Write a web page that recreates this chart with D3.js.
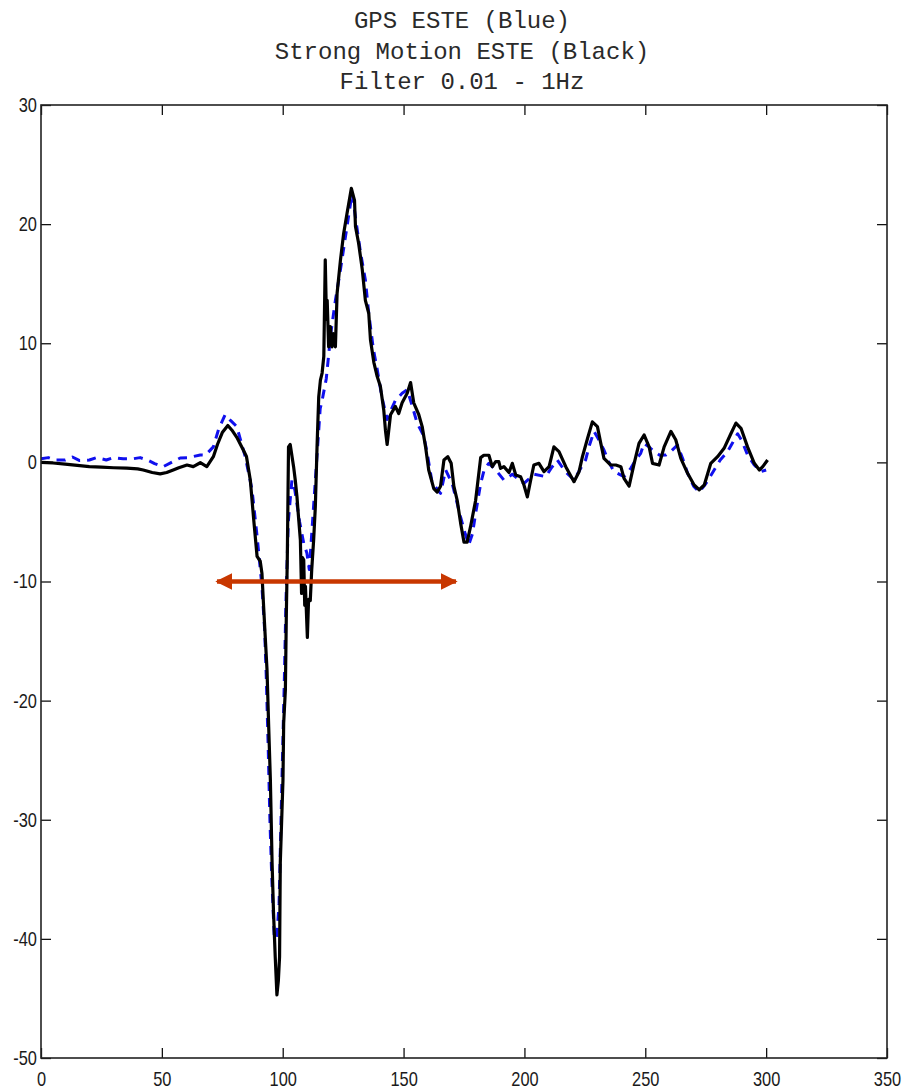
<!DOCTYPE html>
<html>
<head>
<meta charset="utf-8">
<script src="https://cdn.jsdelivr.net/npm/d3@7"></script>
<style>
html,body{margin:0;padding:0;background:#fff;}
svg{display:block;}
</style>
</head>
<body>
<svg id="chart" width="904" height="1090"></svg>
<script>
// ---- Data ----
const titleLines = ["GPS ESTE (Blue)", "Strong Motion ESTE (Black)", "Filter 0.01 - 1Hz"];
const xTicks = [0, 50, 100, 150, 200, 250, 300, 350];
const yTicks = [30, 20, 10, 0, -10, -20, -30, -40, -50];
const xDomain = [0, 350];
const yDomain = [-50, 30];

// Strong motion (black solid) [time, value]
const strongMotion = [
[0,0],[5,-0.05],[10,-0.15],[15,-0.25],[20,-0.36],[25,-0.4],[30,-0.45],[35.5,-0.49],[40,-0.55],[42.3,-0.64],
[46,-0.85],[49.3,-0.97],[52,-0.85],[54.7,-0.64],[57,-0.45],[60.4,-0.22],[63,-0.36],[65.9,-0.03],[68.6,-0.36],[71.3,0.48],
[73,1.5],[75,2.5],[77.3,3.1],[79,2.7],[81,2.1],[83.8,1.0],[85,0.5],[86.6,-1.5],[88,-4.8],[89.4,-7.9],
[90.7,-8.3],[91.4,-9.3],[92.1,-12.1],[93.5,-17.4],[94.2,-22.2],[94.9,-26.7],[95.6,-33.6],[96.2,-37.8],[96.9,-41.5],[97.6,-44.7],
[98.2,-43.5],[98.7,-41.5],[99,-33.6],[100.1,-26.7],[100.4,-21.9],[101.1,-19.1],[101.5,-12.7],[101.9,-8],[102.4,1.3],[103.1,1.5],
[104.5,-0.36],[105.2,-1.5],[105.9,-2.9],[106.5,-4.5],[107.3,-6.5],[107.8,-11],[108.2,-8],[108.7,-8.2],[109.1,-12],[109.4,-10.4],
[110.2,-14.7],[110.7,-11.5],[111.4,-11.6],[112,-9],[112.8,-6.5],[113.5,-3.7],[114.2,1.3],[114.9,5.5],[115.6,6.9],[116.3,7.5],
[117,8.9],[117.6,17.0],[118.1,12],[118.4,13.6],[119,9.7],[119.7,11.4],[120.4,9.7],[121.1,10.8],[121.8,9.7],[122.5,14.2],
[123.9,17.0],[125.2,19.2],[126.6,20.9],[128.4,23.0],[129.7,22.0],[130.1,19.8],[131.4,18.4],[132.9,16.2],[134.2,13.6],[135.6,12.5],
[136.3,10.3],[137.7,8.4],[139.1,7.2],[140.4,6.4],[141.8,4.4],[142.5,2.7],[143.2,1.5],[144.6,4.0],[146.6,4.7],[148,4.1],
[149.4,5.0],[151.5,5.8],[152.9,6.7],[154.2,5.0],[156.3,4.0],[157.7,3.0],[159.1,1.3],[160.4,-0.64],[162.5,-2.2],[163.9,-2.5],
[165.3,-2.0],[166.7,0.2],[168.3,0.48],[169.7,-0.08],[170.8,-2.0],[172.2,-3.2],[173.6,-5.1],[175,-6.7],[176.3,-6.7],[177.7,-5.4],
[179.8,-3.2],[181.9,0.4],[183.2,0.6],[185.3,0.6],[186.7,-0.36],[188.1,0.06],[189.4,0.06],[190.1,-0.5],[191.5,-0.36],[193.6,-0.85],
[195,-0.08],[196.4,-1.06],[198.4,-1.2],[199.8,-1.9],[201.2,-2.9],[202.6,-1.48],[203.9,-0.22],[206,-0.08],[208.1,-0.78],[210.2,-0.36],
[212.2,1.3],[214.3,0.9],[217.1,-0.36],[220.5,-1.62],[222.6,-0.78],[224,0.48],[226.1,2.0],[228.1,3.4],[230.2,3.0],[231.6,1.6],
[232.9,0.34],[235.7,-0.22],[237.8,-0.22],[239.9,-0.36],[241.2,-1.34],[243.3,-2.0],[245.4,-0.08],[247.4,1.6],[249.5,2.3],[251.6,1.3],
[253,-0.08],[255.7,-0.22],[257.8,1.3],[260.6,2.6],[262.6,1.9],[264.7,0.34],[267.5,-0.92],[270.2,-1.9],[272.3,-2.3],[274.4,-1.9],
[277.1,-0.08],[279.9,0.48],[282.6,1.18],[285.4,2.4],[287.5,3.3],[289.6,2.86],[292.3,1.3],[295.1,-0.08],[297.2,-0.64],[298.6,-0.36],
[300.6,0.2]
];

// GPS (blue dashed) [time, value]
const gps = [
[0,0.3],[3,0.4],[6,0.2],[10,0.2],[13,0.45],[16,0.15],[20,0.2],[23,0.4],[27,0.2],[30,0.4],
[34,0.3],[38,0.3],[41,0.4],[44,0.2],[47,-0.1],[50.6,-0.36],[54,0],[57.6,0.37],[61,0.4],[65.9,0.62],
[68,0.6],[71.3,1.3],[73.5,2.8],[76.2,4.0],[78.5,3.5],[81,3.0],[84.5,0.48],[87.3,-2.3],[89.4,-6.2],[91.4,-10.4],
[92.5,-14],[93.2,-18],[94,-24],[94.7,-30],[95.5,-35],[96.5,-39.8],[97.5,-40],[98.5,-37],[99.3,-30],[100,-24],
[100.7,-18],[101.3,-12],[102.3,-5],[103.8,-1.5],[105,-2.3],[107,-5],[108.7,-6.8],[110,-7.6],[111,-9],[112,-6],
[113,-3],[114.5,1.5],[115.5,4.5],[116.3,5.2],[118,7],[120,11],[121.8,13.6],[123.9,16.2],[126,19],[128.7,22.6],
[130.5,20],[132.2,17.6],[134.2,15.3],[135.6,12.5],[137.5,9.5],[139.1,7.8],[141,5.5],[143.2,3.6],[145,4.5],[146.6,5.2],
[149.4,5.8],[151.5,6.1],[153.5,4.8],[155.6,3.3],[158.4,2.2],[160,0.5],[161.8,-1.7],[165.3,-2.6],[167.4,-0.64],[170.1,-1.76],
[173.6,-4.6],[175.5,-6],[177,-6.9],[178.5,-6],[179.8,-4.3],[181.9,-1.76],[183.5,-0.5],[185.3,-0.08],[188,-0.6],[191.5,-1.48],
[195,-1.0],[199.8,-1.76],[204,-1.0],[208.8,-1.2],[211,-0.5],[213.6,0.2],[217,-0.8],[220.5,-1.48],[223,-0.6],[225.3,0.2],
[227,1.5],[228.8,2.6],[230.5,2.0],[232.9,1.04],[235,0],[237.1,-0.78],[241.2,-1.2],[244,-0.5],[246,0.2],[248.1,0.76],
[249.5,1.6],[251.5,1.3],[253.7,0.9],[256,0.6],[258.5,0.62],[261,1.0],[263.3,1.46],[265.5,0.3],[267.5,-0.92],[270,-2.0],
[272.3,-2.5],[275,-1.8],[278.5,-0.64],[281,0.2],[284,0.9],[286,1.6],[288.2,2.4],[290,1.8],[292.3,0.62],[295,-0.2],
[297.8,-0.78],[300,-0.64]
];

// Annotation arrow (double-headed) endpoints in data units
const arrowX = [72, 172.5];
const arrowY = -10;

// ---- Layout ----
const W = 904, H = 1090;
const margin = {top: 105, right: 17, bottom: 32, left: 41};
const iw = W - margin.left - margin.right;
const ih = H - margin.top - margin.bottom;

const svg = d3.select("#chart");
const g = svg.append("g").attr("transform", `translate(${margin.left},${margin.top})`);

const x = d3.scaleLinear().domain(xDomain).range([0, iw]);
const y = d3.scaleLinear().domain(yDomain).range([ih, 0]);

const tickFont = "'Liberation Sans Narrow','Liberation Sans',Arial,sans-serif";
const fmt = d => String(d); // plain hyphen-minus like the original

// Title
const title = svg.append("g");
titleLines.forEach((t, i) => {
  title.append("text")
    .attr("x", margin.left + iw / 2 - 2)
    .attr("y", 28 + i * 30.5)
    .attr("text-anchor", "middle")
    .attr("font-family", "'Liberation Mono','DejaVu Sans Mono',monospace")
    .attr("font-size", 24)
    .attr("fill", "#2a2a2a")
    .text(t);
});

// Axes (MATLAB style: inward ticks on all four sides)
const tickLen = 10;
const axB = d3.axisBottom(x).tickValues(xTicks).tickSize(-tickLen).tickPadding(14).tickFormat(fmt);
const axT = d3.axisTop(x).tickValues(xTicks).tickSize(-tickLen).tickFormat("");
const axL = d3.axisLeft(y).tickValues(yTicks).tickSize(-tickLen).tickPadding(5).tickFormat(fmt);
const axR = d3.axisRight(y).tickValues(yTicks).tickSize(-tickLen).tickFormat("");

function styleAxis(sel) {
  sel.select(".domain").remove();
  sel.selectAll(".tick line").attr("stroke", "#111").attr("stroke-width", 1.3);
  sel.selectAll(".tick text")
    .attr("font-family", tickFont).attr("font-size", 20).attr("fill", "#1a1a1a")
    .attr("transform", "scale(0.82,1)");
}
g.append("g").attr("transform", `translate(0,${ih})`).call(axB).call(styleAxis);
g.append("g").call(axT).call(styleAxis);
g.append("g").call(axL).call(styleAxis);
g.append("g").attr("transform", `translate(${iw},0)`).call(axR).call(styleAxis);

// Clip
g.append("clipPath").attr("id", "clip").append("rect").attr("width", iw).attr("height", ih);

const line = d3.line().x(d => x(d[0])).y(d => y(d[1]));
const plot = g.append("g").attr("clip-path", "url(#clip)");

plot.append("path").datum(gps)
  .attr("d", line).attr("fill", "none")
  .attr("stroke", "#1010ee").attr("stroke-width", 3)
  .attr("stroke-dasharray", "9,7").attr("stroke-linejoin", "round");

plot.append("path").datum(strongMotion)
  .attr("d", line).attr("fill", "none")
  .attr("stroke", "#000").attr("stroke-width", 3.2)
  .attr("stroke-linejoin", "round");

// Box
g.append("rect").attr("width", iw).attr("height", ih)
  .attr("fill", "none").attr("stroke", "#222").attr("stroke-width", 1.6);

// Red double-headed arrow
const red = "#c83700";
const defs = svg.append("defs");
["start", "end"].forEach(k => {
  defs.append("marker").attr("id", "ah-" + k)
    .attr("viewBox", "0 0 10 10").attr("refX", 9).attr("refY", 5)
    .attr("markerWidth", 17).attr("markerHeight", 20).attr("markerUnits", "userSpaceOnUse")
    .attr("orient", k === "start" ? "auto-start-reverse" : "auto")
    .append("path").attr("d", "M0,0 L10,5 L0,10 Z").attr("fill", red);
});
g.append("line")
  .attr("x1", x(arrowX[0]) + 2).attr("x2", x(arrowX[1]) - 2)
  .attr("y1", y(arrowY)).attr("y2", y(arrowY))
  .attr("stroke", red).attr("stroke-width", 4.5)
  .attr("marker-start", "url(#ah-start)").attr("marker-end", "url(#ah-end)");
</script>
</body>
</html>
